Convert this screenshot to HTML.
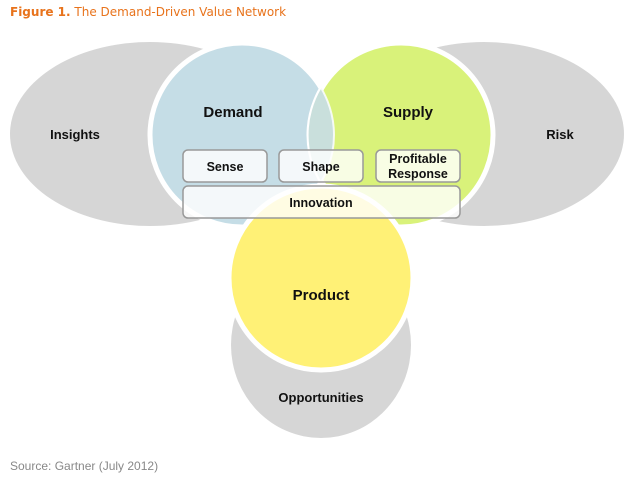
<!DOCTYPE html>
<html><head><style>
body{margin:0;background:#fff;width:632px;height:478px;overflow:hidden;font-family:"Liberation Sans",sans-serif}
</style></head><body>
<svg width="632" height="478" viewBox="0 0 632 478" xmlns="http://www.w3.org/2000/svg" font-family="Liberation Sans, sans-serif">
<text x="10" y="16" font-family="DejaVu Sans, sans-serif" font-size="12" fill="#e8731c"><tspan font-weight="bold">Figure 1.</tspan> The Demand-Driven Value Network</text>
<ellipse cx="150" cy="134" rx="140" ry="92" fill="#d6d6d6"/>
<ellipse cx="484" cy="134" rx="140" ry="92" fill="#d6d6d6"/>
<ellipse cx="321" cy="345" rx="90" ry="93" fill="#d6d6d6"/>
<circle cx="242" cy="135" r="92" fill="#c5dde6" stroke="#fff" stroke-width="5"/>
<circle cx="401" cy="135" r="92" fill="#d9f27a" stroke="#fff" stroke-width="5"/>
<path d="M321.5 88 A92 92 0 0 1 321.5 182 A92 92 0 0 1 321.5 88Z" fill="#c9dfdc"/>
<circle cx="242" cy="135" r="92" fill="none" stroke="#fff" stroke-width="2" stroke-opacity="0.8"/>
<circle cx="321" cy="278" r="92" fill="#fff176" stroke="#fff" stroke-width="5"/>
<g fill="#fff" fill-opacity="0.8" stroke="#999" stroke-width="1.5">
<rect x="183" y="150" width="84" height="32" rx="5"/>
<rect x="279" y="150" width="84" height="32" rx="5"/>
<rect x="376" y="150" width="84" height="32" rx="5"/>
<rect x="183" y="186" width="277" height="32" rx="5"/>
</g>
<g font-weight="bold" fill="#111" text-anchor="middle">
<text x="233" y="117" font-size="15">Demand</text>
<text x="408" y="117" font-size="15">Supply</text>
<text x="321" y="300" font-size="15">Product</text>
<text x="75" y="139" font-size="13">Insights</text>
<text x="560" y="139" font-size="13">Risk</text>
<text x="321" y="402" font-size="13">Opportunities</text>
<text x="225" y="171" font-size="12.5">Sense</text>
<text x="321" y="171" font-size="12.5">Shape</text>
<text x="418" y="163" font-size="12.5">Profitable</text>
<text x="418" y="178" font-size="12.5">Response</text>
<text x="321" y="207" font-size="12.5">Innovation</text>
</g>
<text x="10" y="470" font-size="12" fill="#888">Source: Gartner (July 2012)</text>
</svg>
</body></html>
